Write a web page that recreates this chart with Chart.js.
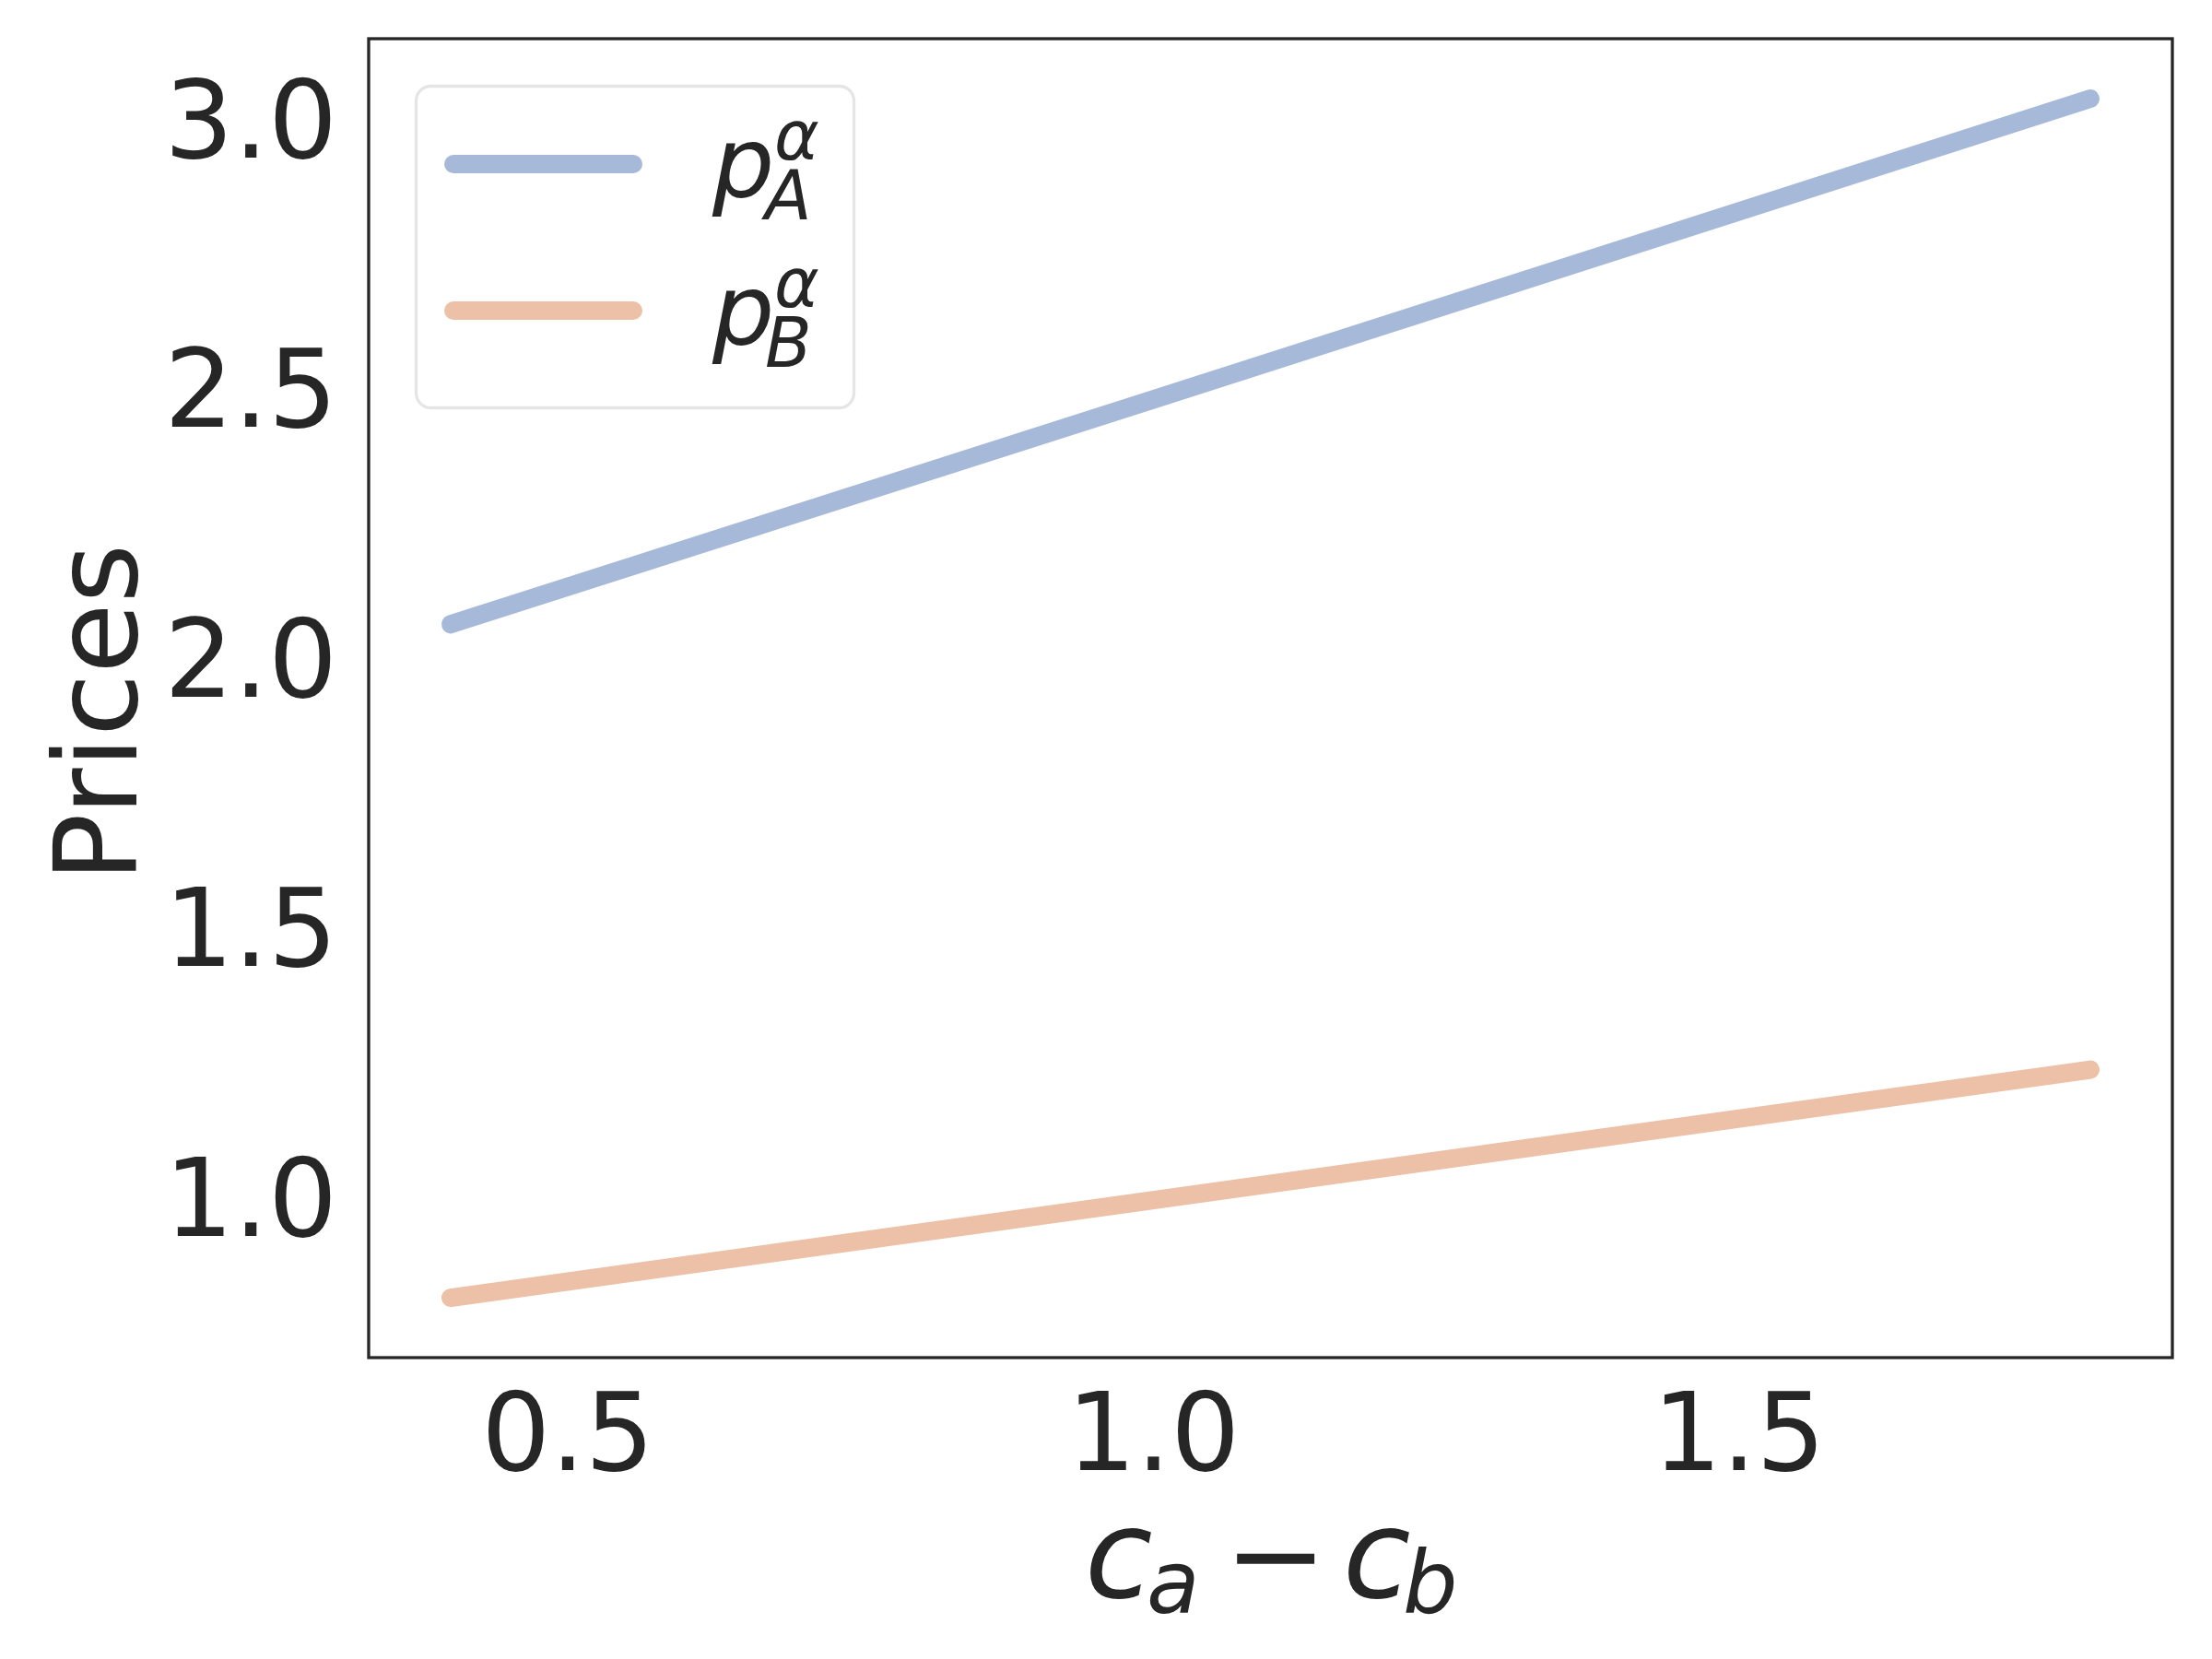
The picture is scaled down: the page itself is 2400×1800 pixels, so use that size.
<!DOCTYPE html>
<html>
<head>
<meta charset="utf-8">
<script src="https://cdn.jsdelivr.net/npm/chart.js@4.4.1/dist/chart.umd.min.js"></script>
<style>
  html, body { margin: 0; padding: 0; background: #ffffff; }
  #chart { display: block; }
</style>
</head>
<body>
<canvas id="chart" width="2400" height="1800"></canvas>
<script>
// values
const costGap = [0.4, 1.0, 1.8];
const priceA = [2.063, 2.48, 3.038];
const priceB = [0.814, 0.995, 1.237];
const xTicks = [0.5, 1.0, 1.5];
const yTicks = [1.0, 1.5, 2.0, 2.5, 3.0];
const xLimits = [0.33, 1.87];
const yLimits = [0.703, 3.149];
const legendLabels = [
  { base: 'p', sub: 'A', sup: 'α' },
  { base: 'p', sub: 'B', sup: 'α' },
];

const ink = '#262626';
const font = '"DejaVu Sans", sans-serif';

const toPoints = (xs, ys) => xs.map((x, i) => ({ x: x, y: ys[i] }));

// draw text so that its ink starts at inkLeft
const drawInk = (ctx, text, inkLeft, baseline, css) => {
  ctx.font = css;
  const m = ctx.measureText(text);
  ctx.fillText(text, inkLeft + m.actualBoundingBoxLeft, baseline);
};

const framePlugin = {
  id: 'frame',
  afterDatasetsDraw(chart) {
    const { ctx, chartArea } = chart;
    ctx.save();
    ctx.strokeStyle = ink;
    ctx.lineWidth = 3.3;
    ctx.strokeRect(chartArea.left, chartArea.top,
      chartArea.right - chartArea.left, chartArea.bottom - chartArea.top);
    ctx.restore();
  }
};

// legend with math labels (p with sub and superscript)
const mathLegendPlugin = {
  id: 'mathLegend',
  afterDraw(chart) {
    const ctx = chart.ctx;
    ctx.save();
    ctx.beginPath();
    ctx.roundRect(451.5, 93.5, 475, 349, 16);
    ctx.fillStyle = 'rgba(255,255,255,0.8)';
    ctx.fill();
    ctx.lineWidth = 3.3;
    ctx.strokeStyle = '#e5e5e5';
    ctx.stroke();

    chart.data.datasets.forEach((ds, i) => {
      const rowY = 178 + i * 159;
      ctx.beginPath();
      ctx.lineCap = 'round';
      ctx.lineWidth = 20;
      ctx.strokeStyle = ds.borderColor;
      ctx.moveTo(492, rowY);
      ctx.lineTo(687, rowY);
      ctx.stroke();

      const lab = legendLabels[i];
      const baseline = 213 + i * 160;
      ctx.fillStyle = ink;
      ctx.textAlign = 'left';
      ctx.textBaseline = 'alphabetic';
      drawInk(ctx, lab.base, 772, baseline, 'italic 106px ' + font);
      ctx.font = 'italic 74px ' + font;
      ctx.fillText(lab.sup, 840, baseline - 40);
      ctx.fillText(lab.sub, 830, baseline + 25);
    });
    ctx.restore();
  }
};

// axis titles: "Prices" (rotated) and c_a − c_b
const axisTitlePlugin = {
  id: 'axisTitles',
  afterDraw(chart) {
    const ctx = chart.ctx;
    ctx.save();
    ctx.fillStyle = ink;
    ctx.textAlign = 'left';
    ctx.textBaseline = 'alphabetic';

    ctx.save();
    ctx.translate(148, 945);
    ctx.rotate(-Math.PI / 2);
    drawInk(ctx, 'Prices', 0, 0, '124px ' + font);
    ctx.restore();

    const big = 'italic 134px ' + font;
    const small = 'italic 94px ' + font;
    drawInk(ctx, 'c', 1183, 1733, big);
    ctx.font = small;
    ctx.fillText('a', 1244, 1750);
    drawInk(ctx, '−', 1342, 1733, '134px ' + font);
    drawInk(ctx, 'c', 1463, 1733, big);
    ctx.font = small;
    ctx.fillText('b', 1522, 1750);
    ctx.restore();
  }
};

new Chart('chart', {
  type: 'line',
  data: {
    datasets: [
      {
        label: 'p_A^α',
        data: toPoints(costGap, priceA),
        borderColor: 'rgb(167,185,216)',
        backgroundColor: 'rgb(167,185,216)',
        borderWidth: 20,
        borderCapStyle: 'round',
        pointRadius: 0,
        fill: false,
        tension: 0,
      },
      {
        label: 'p_B^α',
        data: toPoints(costGap, priceB),
        borderColor: 'rgb(236,193,167)',
        backgroundColor: 'rgb(236,193,167)',
        borderWidth: 20,
        borderCapStyle: 'round',
        pointRadius: 0,
        fill: false,
        tension: 0,
      },
    ],
  },
  options: {
    responsive: false,
    animation: false,
    devicePixelRatio: 1,
    layout: { padding: { top: 42, right: 43, left: 0, bottom: 0 } },
    plugins: {
      legend: { display: false },
      tooltip: { enabled: false },
    },
    scales: {
      x: {
        type: 'linear',
        min: xLimits[0],
        max: xLimits[1],
        grid: { display: false, drawTicks: false, tickLength: 0 },
        border: { display: false },
        afterBuildTicks: (scale) => { scale.ticks = xTicks.map(v => ({ value: v })); },
        afterFit: (scale) => {
          scale.height = 327;
          scale.paddingLeft = 0;
          scale.paddingRight = 0;
        },
        ticks: {
          autoSkip: false,
          maxRotation: 0,
          padding: 21,
          color: ink,
          font: { family: font, size: 118, lineHeight: 1.2 },
          callback: (v) => v.toFixed(1),
        },
      },
      y: {
        type: 'linear',
        min: yLimits[0],
        max: yLimits[1],
        grid: { display: false, drawTicks: false, tickLength: 0 },
        border: { display: false },
        afterBuildTicks: (scale) => { scale.ticks = yTicks.map(v => ({ value: v })); },
        afterFit: (scale) => {
          scale.width = 400;
          scale.paddingTop = 0;
          scale.paddingBottom = 0;
        },
        ticks: {
          autoSkip: false,
          padding: 34,
          labelOffset: 11,
          color: ink,
          font: { family: font, size: 118, lineHeight: 1.2 },
          callback: (v) => v.toFixed(1),
        },
        title: { display: false },
      },
    },
  },
  plugins: [framePlugin, mathLegendPlugin, axisTitlePlugin],
});
</script>
</body>
</html>
